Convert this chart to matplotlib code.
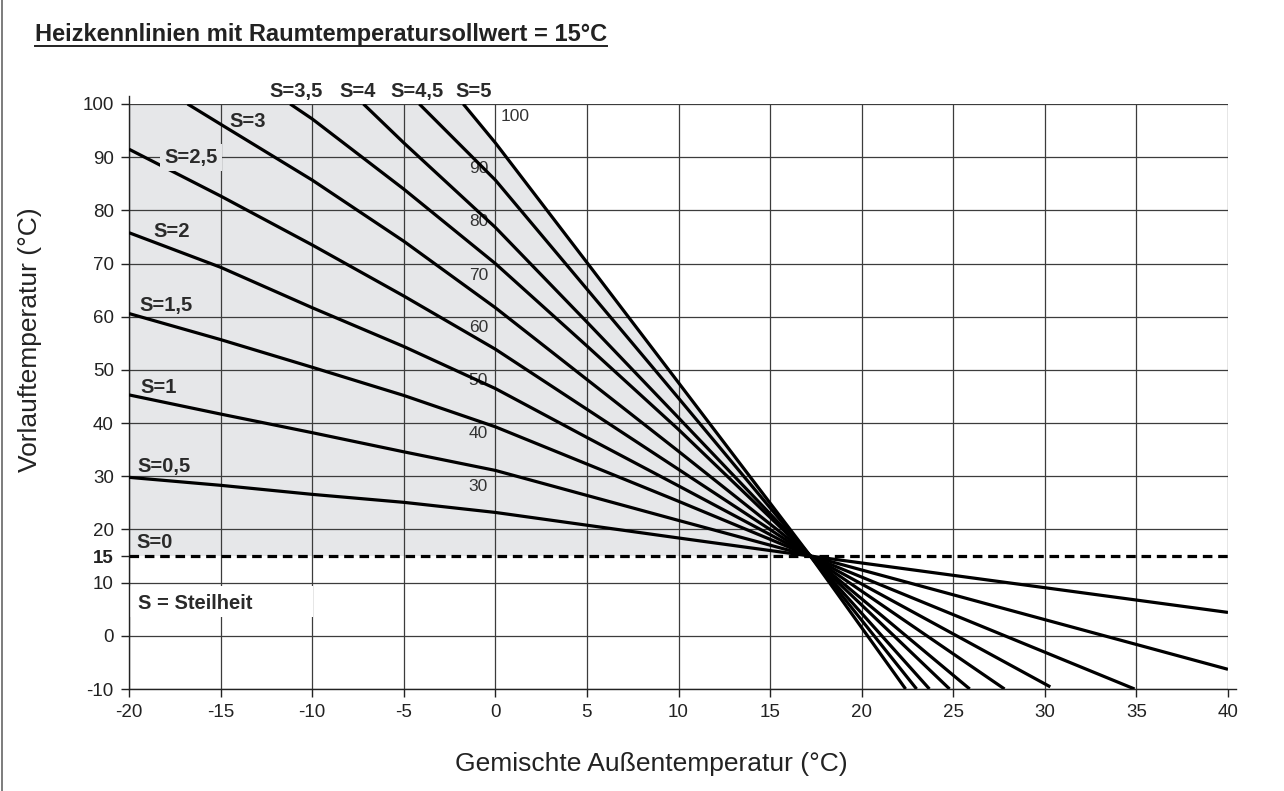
import matplotlib
matplotlib.use("Agg")
import matplotlib.pyplot as plt
from matplotlib import font_manager
from matplotlib.lines import Line2D
from matplotlib.patches import Rectangle

installed = {f.name for f in font_manager.fontManager.ttflist}
NARROW = 'Liberation Sans Narrow' if 'Liberation Sans Narrow' in installed else 'Liberation Sans'
plt.rcParams['font.family'] = ['Liberation Sans', 'DejaVu Sans']
plt.rcParams['axes.unicode_minus'] = False

# heating curves: outdoor temperature (x) -> flow temperature (y)
s05_x = [-20, -15, -10, -5, 0, 5, 10, 17.2, 40]
s05_y = [29.8, 28.3, 26.6, 25.1, 23.2, 20.8, 18.4, 15, 4.4]
s1_x = [-20, -15, -10, -5, 0, 5, 10, 17.2, 40]
s1_y = [45.3, 41.7, 38.2, 34.6, 31.1, 26.4, 21.7, 15, -6.3]
s15_x = [-20, -15, -10, -5, 0, 5, 10, 17.2, 34.9]
s15_y = [60.6, 55.7, 50.5, 45.2, 39.3, 32.3, 25.3, 15, -10]
s2_x = [-20, -15, -10, -5, 0, 5, 10, 17.2, 30.3]
s2_y = [75.8, 69.3, 61.7, 54.4, 46.5, 37.3, 28.2, 15, -9.6]
s25_x = [-20, -15, -10, -5, 0, 5, 10, 17.2, 27.8]
s25_y = [91.5, 82.7, 73.5, 63.9, 53.9, 42.6, 31.3, 15, -10]
s3_x = [-16.8, -15, -10, -5, 0, 5, 10, 17.2, 25.9]
s3_y = [100, 96.2, 85.7, 74.2, 61.7, 48.2, 34.7, 15, -10]
s35_x = [-11.2, -10, -5, 0, 5, 10, 17.2, 24.8]
s35_y = [100, 97.2, 84.0, 70.0, 54.5, 38.8, 15, -10]
s4_x = [-7.2, -5, 0, 5, 10, 17.2, 23.7]
s4_y = [100, 92.7, 76.8, 59.0, 41.0, 15, -10]
s45_x = [-4.15, 0, 5, 10, 17.2, 23.0]
s45_y = [100, 85.7, 65.2, 44.7, 15, -10]
s5_x = [-1.75, 0, 5, 10, 17.2, 22.4]
s5_y = [100, 92.7, 70.2, 47.6, 15, -10]
s0_x = [-20, 40]
s0_y = [15, 15]

curves = [(s05_x, s05_y), (s1_x, s1_y), (s15_x, s15_y), (s2_x, s2_y), (s25_x, s25_y),
          (s3_x, s3_y), (s35_x, s35_y), (s4_x, s4_y), (s45_x, s45_y), (s5_x, s5_y)]

# curve labels and their positions
label_text = ['S=0', 'S=0,5', 'S=1', 'S=1,5', 'S=2', 'S=2,5', 'S=3', 'S=3,5', 'S=4', 'S=4,5', 'S=5']
label_x = [-18.6, -18.1, -18.4, -18.0, -17.65, -16.6, -13.5, -10.9, -7.5, -4.3, -1.2]
label_y = [17.5, 31.9, 46.6, 62.2, 76.1, 89.9, 96.8, 102.3, 102.3, 102.3, 102.3]

inner_text = ['100', '90', '80', '70', '60', '50', '40', '30']
inner_y = [97.7, 87.9, 77.9, 67.8, 57.9, 48.1, 38.0, 28.0]

x_ticks = [-20, -15, -10, -5, 0, 5, 10, 15, 20, 25, 30, 35, 40]
y_ticks = [-10, 0, 10, 15, 20, 30, 40, 50, 60, 70, 80, 90, 100]

fig = plt.figure(figsize=(12.84, 7.91), dpi=100)
ax = fig.add_axes([129/1284, 102/791, 1099/1284, 585/791])
ax.set_xlim(-20, 40)
ax.set_ylim(-10, 100)

# grey area above S=0 and left of the S=5 curve
fill_x = [-20, -20] + [x for x in s5_x if x <= 17.2]
fill_y = [15, 100] + [y for x, y in zip(s5_x, s5_y) if x <= 17.2]
ax.fill(fill_x, fill_y, color='#e6e7e9', lw=0, zorder=0.1)

ax.set_axisbelow(True)
ax.set_xticks(x_ticks)
ax.set_yticks(y_ticks)
ax.grid(True, color='#3c3c3c', lw=0.9)
ax.yaxis.get_gridlines()[y_ticks.index(15)].set_visible(False)
ax.tick_params(direction='out', length=6, width=1, color='#222', labelsize=13.5,
               labelcolor='#222', pad=5)
for lab in ax.get_yticklabels():
    if lab.get_text() == '15':
        lab.set_fontweight('bold')

for sp in ['top', 'right']:
    ax.spines[sp].set_visible(False)
ax.spines['left'].set_bounds(-10, 101.5)
ax.spines['bottom'].set_bounds(-20, 40.45)
for sp in ['left', 'bottom']:
    ax.spines[sp].set_color('#222')
    ax.spines[sp].set_linewidth(1)

for xs, ys in curves:
    ax.plot(xs, ys, color='black', lw=2.3, solid_capstyle='butt', zorder=3)
ax.plot(s0_x, s0_y, color='black', lw=2.3, ls=(0, (3, 1.8)), zorder=3)

ax.add_patch(Rectangle((-19.95, 3.5), 10.0, 5.8, facecolor='white', edgecolor='none', zorder=2))
ax.text(-19.5, 6.1, 'S = Steilheit', family=NARROW, fontweight='bold', fontsize=14.5,
        color='#2a2a2a', va='center', ha='left', zorder=4)

for t, lx, ly in zip(label_text, label_x, label_y):
    box = None
    if t == 'S=2,5':
        box = dict(facecolor='#e6e7e9', edgecolor='none', pad=3)
    ax.text(lx, ly, t, family=NARROW, fontweight='bold', fontsize=14.5, color='#2a2a2a',
            ha='center', va='center', zorder=4, bbox=box, clip_on=False)

for t, iy in zip(inner_text, inner_y):
    if t == '100':
        ax.text(0.3, iy, t, fontsize=12.5, color='#333', ha='left', va='center', zorder=2)
    else:
        ax.text(-0.4, iy, t, fontsize=12.5, color='#333', ha='right', va='center', zorder=2)

ax.set_xlabel('Gemischte Außentemperatur (°C)', fontsize=19, color='#222')
ax.set_ylabel('Vorlauftemperatur (°C)', fontsize=19, color='#222')
ax.xaxis.set_label_coords(0.475, -0.108)
ax.yaxis.set_label_coords(-0.079, 0.597)

title = fig.text(35/1284, 1 - 34/791, 'Heizkennlinien mit Raumtemperatursollwert = 15°C',
                 fontsize=17, fontweight='bold', color='#222', ha='left', va='center')

# frame line on the left edge
fig.add_artist(Line2D([2/1284, 2/1284], [0, 1], color='#666', lw=1.2))

# underline the title
fig.canvas.draw()
bb = title.get_window_extent().transformed(fig.transFigure.inverted())
fig.add_artist(Line2D([bb.x0, bb.x1], [bb.y0 - 1/791, bb.y0 - 1/791], color='#222', lw=1.4))

fig.savefig('out.png', dpi=100)
